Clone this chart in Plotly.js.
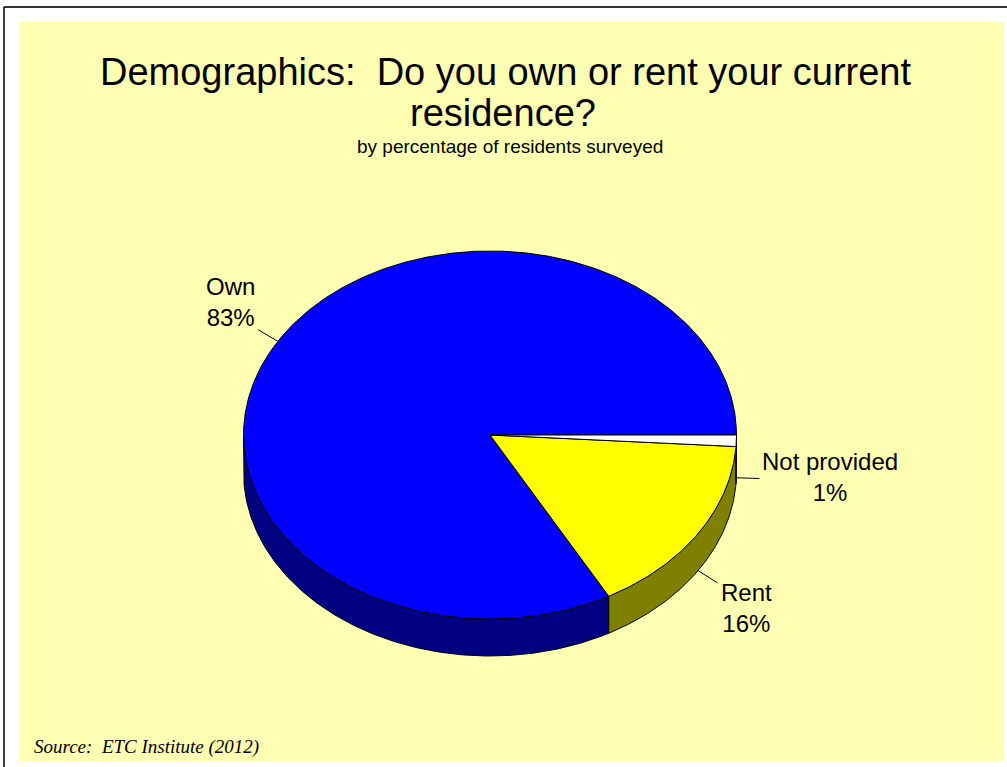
<!DOCTYPE html>
<html>
<head>
<meta charset="utf-8">
<script src="https://cdn.plot.ly/plotly-3.0.1.min.js"></script>
<style>
  html, body { margin: 0; padding: 0; background: #ffffff; }
  #chart { width: 1007px; height: 767px; }
</style>
</head>
<body>
<div id="chart"></div>
<script>
// ---- data ----
const categories = ['Own', 'Rent', 'Not provided'];
const percents = [83, 16, 1];
const titleLine1 = 'Demographics:\u00A0 Do you own or rent your current';
const titleLine2 = 'residence?';
const subtitle = 'by percentage of residents surveyed';
const sourceText = 'Source:\u00A0 ETC Institute (2012)';

// ---- style ----
const topColors = ['#0000FF', '#FFFF00', '#FFFFFF'];
const sideColors = ['#000080', '#808000', '#808080'];
const bg = '#FFFFB3';
const geo = { cx: 490, cy: 435, rx: 246.5, ry: 184, depth: 37, leader: 23 };
const labelOffsets = [[-28, -27.6], [28.5, 25.4], [71, -2]];
const sans = 'Liberation Sans, Arial, Helvetica, sans-serif';

const rad = d => d * Math.PI / 180;
const px = t => geo.cx + geo.rx * Math.cos(rad(t));
const py = (t, dz) => geo.cy + geo.ry * Math.sin(rad(t)) + (dz || 0);

function arc(t1, t2, dz) {
  const xs = [], ys = [];
  const n = Math.max(2, Math.ceil(Math.abs(t2 - t1) / 0.5));
  for (let i = 0; i <= n; i++) {
    const t = t1 + (t2 - t1) * i / n;
    xs.push(px(t)); ys.push(py(t, dz));
  }
  return [xs, ys];
}

const total = percents.reduce((a, b) => a + b, 0);
// slices go counter-clockwise from 3 o'clock; screen angle t is clockwise (y down)
let cum = 0;
const slices = percents.map((v, i) => {
  const a0 = cum / total * 360; cum += v; const a1 = cum / total * 360;
  return { i, t1: 360 - a1, t2: 360 - a0 };
});

const sideTraces = [], topTraces = [], leaderTraces = [], annotations = [];

slices.forEach(s => {
  // side wall: the front part (0..180 deg on screen)
  const f1 = Math.max(s.t1, 0), f2 = Math.min(s.t2, 180);
  if (f2 > f1) {
    const [tx, ty] = arc(f1, f2, 0);
    const [bx, by] = arc(f2, f1, geo.depth);
    sideTraces.push({
      type: 'scatter', mode: 'lines', x: tx.concat(bx, [tx[0]]), y: ty.concat(by, [ty[0]]),
      fill: 'toself', fillcolor: sideColors[s.i], line: { color: '#000000', width: 1 },
      hoverinfo: 'skip', showlegend: false
    });
  }
  // top face
  const [ax, ay] = arc(s.t1, s.t2, 0);
  topTraces.push({
    type: 'scatter', mode: 'lines',
    x: [geo.cx].concat(ax, [geo.cx]), y: [geo.cy].concat(ay, [geo.cy]),
    fill: 'toself', fillcolor: topColors[s.i], line: { color: '#000000', width: 1 },
    name: categories[s.i], text: categories[s.i] + ': ' + percents[s.i] + '%',
    hoverinfo: 'text', hoveron: 'fills', showlegend: false
  });
  // leader line + label
  const tm = (s.t1 + s.t2) / 2;
  const front = Math.sin(rad(tm)) > 0;
  const x0 = px(tm), y0 = py(tm, front ? geo.depth : 0);
  const x1 = x0 + geo.leader * Math.cos(rad(tm)), y1 = y0 + geo.leader * Math.sin(rad(tm));
  leaderTraces.push({
    type: 'scatter', mode: 'lines', x: [x0, x1], y: [y0, y1],
    line: { color: '#000000', width: 1 }, hoverinfo: 'skip', showlegend: false
  });
  annotations.push({
    x: x1 + labelOffsets[s.i][0], y: y1 + labelOffsets[s.i][1], xref: 'x', yref: 'y',
    text: categories[s.i] + '<br>' + percents[s.i] + '%', showarrow: false,
    xanchor: 'center', yanchor: 'middle', align: 'center',
    font: { family: sans, size: 24, color: '#000000' }
  });
});

annotations.push(
  { x: 502.7, y: 112.7, xref: 'x', yref: 'y', text: titleLine2, showarrow: false,
    xanchor: 'center', yanchor: 'middle', font: { family: sans, size: 38, color: '#000000' } },
  { x: 510, y: 146, xref: 'x', yref: 'y', text: subtitle, showarrow: false,
    xanchor: 'center', yanchor: 'middle', font: { family: sans, size: 19, color: '#000000' } },
  { x: 32, y: 747.4, xref: 'x', yref: 'y', text: '<i>' + sourceText + '</i>', showarrow: false,
    xanchor: 'left', yanchor: 'middle',
    font: { family: 'Liberation Serif, Times New Roman, serif', size: 19, color: '#000000' } }
);

const layout = {
  width: 1007, height: 767,
  margin: { l: 0, r: 0, t: 0, b: 0, pad: 0 },
  paper_bgcolor: '#FFFFFF', plot_bgcolor: 'rgba(0,0,0,0)',
  title: {
    text: titleLine1, xref: 'container', yref: 'container',
    x: 505.5 / 1007, y: 1 - 71.7 / 767, xanchor: 'center', yanchor: 'middle',
    font: { family: sans, size: 38, color: '#000000' }
  },
  xaxis: { range: [0, 1007], visible: false, fixedrange: true },
  yaxis: { range: [767, 0], visible: false, fixedrange: true },
  showlegend: false,
  shapes: [
    { type: 'rect', xref: 'x', yref: 'y', x0: 19, y0: 22, x1: 1004, y1: 761,
      fillcolor: bg, line: { width: 0 }, layer: 'below' },
    { type: 'line', xref: 'x', yref: 'y', x0: 4, y0: 7, x1: 1007, y1: 7,
      line: { color: '#333333', width: 2 }, layer: 'below' },
    { type: 'line', xref: 'x', yref: 'y', x0: 4, y0: 7, x1: 4, y1: 767,
      line: { color: '#000000', width: 1.5 }, layer: 'below' }
  ],
  annotations: annotations
};

Plotly.newPlot('chart', sideTraces.concat(topTraces, leaderTraces), layout,
  { displayModeBar: false, staticPlot: false, responsive: false });
</script>
</body>
</html>
